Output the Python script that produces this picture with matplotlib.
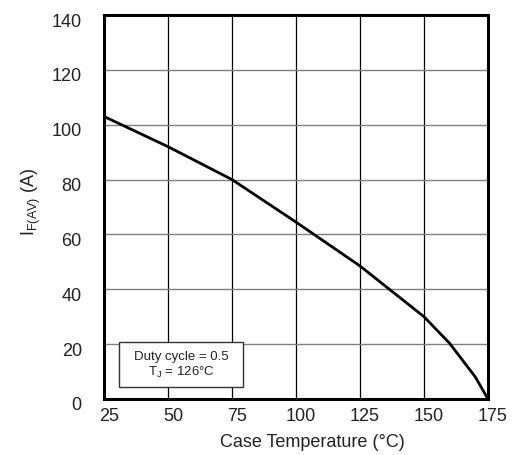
import matplotlib
matplotlib.use("Agg")
import matplotlib.pyplot as plt
from matplotlib.patches import Rectangle
from matplotlib.transforms import ScaledTranslation

plt.rcParams['font.family'] = ['Liberation Sans', 'DejaVu Sans']
plt.rcParams['mathtext.fontset'] = 'custom'
plt.rcParams['mathtext.rm'] = 'Liberation Sans'

temp_c = [25, 50, 75, 100, 125, 150, 160, 170, 175]
current_a = [103, 92, 80, 64.5, 48.5, 30, 20.3, 8.1, 0]
x_ticks = [25, 50, 75, 100, 125, 150, 175]
y_ticks = [0, 20, 40, 60, 80, 100, 120, 140]

txt_col = '#222222'
fig = plt.figure(figsize=(5.15, 4.56), dpi=100)
ax = fig.add_axes([104/515, 56/456, 384/515, 384/456])
ax.set_xlim(25, 175)
ax.set_ylim(0, 140)
ax.set_xticks(x_ticks)
ax.set_yticks(y_ticks)
for x in x_ticks[1:-1]:
    ax.axvline(x, color='black', lw=0.9, zorder=1)
for y in y_ticks[1:-1]:
    ax.axhline(y, color='#808080', lw=1.0, zorder=1)
ax.plot(temp_c, current_a, color='black', lw=2.0, zorder=3)
for s in ax.spines.values():
    s.set_linewidth(2.2)
ax.tick_params(length=0, labelsize=13, labelcolor=txt_col)
ax.tick_params(axis='x', pad=6)
ax.tick_params(axis='y', pad=16)
ax.set_xlabel('Case Temperature (°C)', fontsize=13, color=txt_col)
ax.xaxis.set_label_coords(0.542, -0.088)
ax.set_ylabel(r'I$_{\mathregular{F(AV)}}$ (A)', fontsize=13, color=txt_col)
ax.yaxis.set_label_coords(-0.16, 0.515)

dx = ScaledTranslation(5/100, 0, fig.dpi_scale_trans)
dy = ScaledTranslation(0, -4/100, fig.dpi_scale_trans)
for lab in ax.get_xticklabels():
    lab.set_transform(lab.get_transform() + dx)
for lab in ax.get_yticklabels():
    lab.set_transform(lab.get_transform() + dy)

ax.add_patch(Rectangle((0.04, 0.032), 0.321, 0.116, transform=ax.transAxes,
                       fc='white', ec='#333333', lw=1.0, zorder=5))
ax.text(0.2005, 0.09, 'Duty cycle = 0.5\n' + r'T$_{\mathregular{J}}$ = 126°C',
        transform=ax.transAxes, ha='center', va='center', fontsize=9.5,
        linespacing=1.25, zorder=6, color=txt_col)

fig.savefig('out.png', dpi=100)
